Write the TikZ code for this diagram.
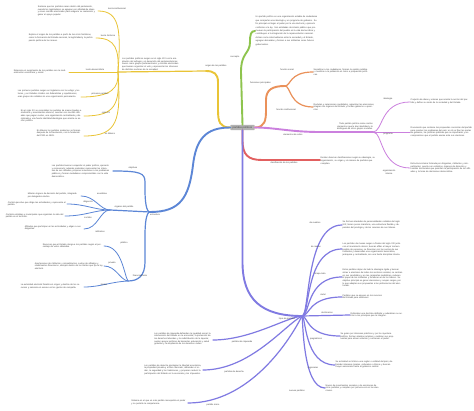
\documentclass[tikz,border=0pt]{standalone}
\usepackage{fontspec}
\setmainfont{Liberation Sans}
\usetikzlibrary{positioning}

\definecolor{cyellow}{RGB}{233,196,54}
\definecolor{cgreen}{RGB}{142,196,78}
\definecolor{corange}{RGB}{234,145,90}
\definecolor{cpurple}{RGB}{203,128,222}
\definecolor{cred}{RGB}{226,96,96}
\definecolor{cblue}{RGB}{92,134,214}
\definecolor{cindigo}{RGB}{128,122,226}
\definecolor{cgray}{RGB}{178,178,178}
\definecolor{ctext}{RGB}{70,70,70}

\begin{document}
\begin{tikzpicture}[
  x=1pt, y=-1pt,
  every node/.style={
    inner sep=0pt, text=ctext,
    font=\fontsize{2.2}{2.7}\selectfont
  },
  desc/.style={text width=#1, align=left},
  trunk/.style={line width=1.9pt, line cap=round},
  twig/.style={line width=1.2pt, line cap=round},
  leaf/.style={line width=0.8pt, line cap=round}
]
\useasboundingbox (0,0) rectangle (474,411);
\fill[white] (0,0) rectangle (474,411);

% centre
\node[fill=cgray, rounded corners=0.6pt, inner xsep=2.4pt, inner ysep=1.3pt,
  font=\fontsize{2.6}{3}\selectfont] (root) at (242.5,127.5) {partidos políticos};

% --- origen (yellow)
\coordinate (yo) at (206,71);
\coordinate (yh) at (118,72);
\coordinate (y2e) at (98,11);
\coordinate (y3e) at (96,38);
\coordinate (y4e) at (69,72);
\coordinate (y5e) at (81,97);
\coordinate (y6e) at (84,116);
\coordinate (y7e) at (84,136);
\draw[trunk,cyellow] (root.west) .. controls (220,127.5) and (218,122) .. (218,110)
  -- (218,82) .. controls (218,74) and (214,71) .. (yo);
\draw[twig,cyellow] (yo) -- (yh);
\draw[leaf,cyellow] (yh) .. controls (121,30) and (120,11) .. (y2e);
\draw[leaf,cyellow] (yh) .. controls (119,50) and (116,38) .. (y3e);
\draw[leaf,cyellow] (yh) -- (y4e);
\draw[leaf,cyellow] (yh) .. controls (119,88) and (112,97) .. (y5e);
\draw[leaf,cyellow] (yh) .. controls (120,105) and (115,116) .. (y6e);
\draw[leaf,cyellow] (yh) .. controls (121,120) and (118,136) .. (y7e);
\node[anchor=south] (ylab) at (216,67.5) {origen de los partidos};
\node[desc=58pt, anchor=south west] (ytxt) at (122,70.5) {Los partidos políticos surgen en el siglo XIX con la ampliación del sufragio y el desarrollo del parlamentarismo; nacen como grupos parlamentarios y comités electorales que buscan organizar el voto y representar los intereses de distintos sectores de la sociedad.};
\node[anchor=south] (y2lab) at (117,9.5) {teoría institucional};
\node[desc=59pt, anchor=east] (y2txt) at (97,11) {Sostiene que los partidos nacen dentro del parlamento, cuando los legisladores se agrupan por afinidad de ideas y crean comités electorales para asegurar su reelección y ganar el apoyo popular.};
\node[anchor=south] (y3lab) at (108,36.5) {teoría histórica};
\node[desc=66pt, anchor=east] (y3txt) at (95,38) {Explica el origen de los partidos a partir de las crisis históricas, como la formación del Estado nacional, la legitimidad y la participación política de las masas.};
\node[anchor=south] (y4lab) at (95,70.5) {teoría desarrollista};
\node[desc=54pt, anchor=east] (y4txt) at (68,72) {Relaciona el surgimiento de los partidos con la modernización económica y social.};
\node[anchor=south] (y5lab) at (100,95.5) {primeros partidos};
\node[desc=62pt, anchor=east] (y5txt) at (80,94) {Los primeros partidos surgen en Inglaterra con los whigs y los tories, y en Estados Unidos con federalistas y republicanos; eran grupos de notables sin una organización permanente.};
\node[anchor=south] (y6lab) at (106,114.5) {siglo XX};
\node[desc=62pt, anchor=east] (y6txt) at (83,116) {En el siglo XX se consolidan los partidos de masas ligados a sindicatos y movimientos obreros; cuentan con muchos afiliados que pagan cuotas, una organización centralizada y disciplinada y una fuerte identidad ideológica que orienta su acción política.};
\node[anchor=south] (y7lab) at (110,134.5) {en México};
\node[desc=46pt, anchor=east] (y7txt) at (83,133) {En México los partidos modernos se forman después de la Revolución, con la fundación del PNR en 1929.};

% --- concepto (green)
\coordinate (gend) at (255,31);
\draw[trunk,cgreen] (root.north) -- (241,72) .. controls (241,52) and (250,54) .. (250,42)
  .. controls (250,34) and (251,31) .. (gend);
\node[anchor=east] (glab) at (239.5,57) {concepto};
\node[desc=62pt, anchor=west, font=\fontsize{2.2}{3.4}\selectfont] (gtxt) at (255.5,31) {Un partido político es una organización estable de ciudadanos que comparten una ideología y un programa de gobierno. Su fin principal es llegar al poder por la vía electoral y ejercerlo conforme a la ley. Son entidades de interés público que promueven la participación del pueblo en la vida democrática y contribuyen a la integración de la representación nacional. Actúan como intermediarios entre la sociedad y el Estado, agregan demandas y forman a sus militantes como futuros gobernantes.};

% --- funciones (orange)
\coordinate (ohub) at (285,86);
\coordinate (o1e) at (313,72);
\coordinate (o2e) at (313,107);
\draw[trunk,corange] (root.east) .. controls (265,127.5) and (266,120) .. (266,110)
  -- (266,100) .. controls (266,90) and (272,86) .. (ohub);
\draw[twig,corange] (ohub) .. controls (291,86) and (289,72) .. (o1e);
\draw[twig,corange] (ohub) .. controls (291,86) and (289,107) .. (o2e);
\node[anchor=south east] (olab) at (271,84.5) {funciones principales};
\node[anchor=south east] (o1lab) at (294,70.5) {función social};
\node[anchor=north east] (o2lab) at (296,108.5) {función institucional};
\node[desc=55pt, anchor=west] (o1txt) at (313.5,72) {Socializan a los ciudadanos, forman la opinión pública y movilizan a la población en torno a propuestas políticas.};
\node[desc=61pt, anchor=west] (o2txt) at (313.5,107) {Reclutan y seleccionan candidatos, organizan las elecciones, integran los órganos del Estado y forman gobierno u oposición.};

% --- elementos (purple)
\coordinate (p0e) at (320,132);
\coordinate (phub) at (373,132);
\coordinate (p2e) at (410,102);
\coordinate (p3e) at (410,132);
\coordinate (p4e) at (410,168);
\draw[trunk,cpurple] (root.east) .. controls (275,127.5) and (290,132) .. (p0e);
\draw[twig,cpurple] (p0e) -- (phub);
\draw[leaf,cpurple] (phub) .. controls (383,132) and (380,102) .. (p2e);
\draw[leaf,cpurple] (phub) -- (p3e);
\draw[leaf,cpurple] (phub) .. controls (383,132) and (380,168) .. (p4e);
\node[anchor=north] (plab) at (293,134) {elementos de estos};
\node[desc=53pt, align=right, anchor=south east] (ptxt) at (373,130.5) {Todo partido político reúne ciertos elementos que le dan identidad y lo distinguen de otros grupos sociales.};
\node[anchor=south] (p2lab) at (388,100.5) {ideología};
\node[anchor=north] (p3lab) at (388,133.5) {programa};
\node[anchor=north, align=center] (p4lab) at (389,169.5) {organización\\interna};
\node[desc=58pt, anchor=west] (p2txt) at (410.5,101.5) {Conjunto de ideas y valores que orienta la acción del partido y define su visión de la sociedad y del Estado.};
\node[desc=62pt, anchor=west] (p3txt) at (410.5,132) {Documento que contiene las propuestas concretas del partido para resolver los problemas del país; en él se fijan las metas de gobierno, las políticas públicas que se impulsarán y los compromisos que el partido asume ante sus electores.};
\node[desc=60pt, anchor=west] (p4txt) at (410.5,168) {Estructura interna formada por dirigentes, militantes y simpatizantes; cuenta con estatutos, órganos de dirección y comités territoriales que permiten la participación de los afiliados y la toma de decisiones democrática.};

% --- clasificacion (red)
\coordinate (r0e) at (320,160);
\draw[trunk,cred] (root.south) -- (242.5,140) .. controls (242.5,155) and (248,160) .. (262,160) -- (r0e);
\node[anchor=north] (rlab) at (284,161.5) {clasificación de los partidos};
\node[desc=56pt, anchor=west] (rtxt) at (320.5,161) {Existen diversas clasificaciones según su ideología, su organización, su origen y el número de partidos que compiten.};

% --- estructura (blue)
\coordinate (bhub) at (150,212);
\coordinate (b1e) at (113,171);
\coordinate (hub2) at (110,210);
\coordinate (bb1) at (81,196);
\coordinate (bb2) at (67,204);
\coordinate (bb3) at (65,216);
\coordinate (bb4) at (84,229);
\coordinate (hub3) at (128,281);
\coordinate (se1) at (104,246);
\coordinate (se2) at (104,266);
\coordinate (se3) at (84,287);
\draw[trunk,cblue] (root.west) .. controls (205,127.5) and (196,140) .. (193,165)
  .. controls (189,198) and (180,212) .. (bhub);
\draw[twig,cblue] (bhub) .. controls (146,212) and (145,200) .. (145,190) -- (145,182)
  .. controls (145,173) and (140,171) .. (b1e);
\draw[twig,cblue] (bhub) -- (hub2);
\draw[twig,cblue] (bhub) .. controls (146,212) and (145,225) .. (145,235) -- (145,262)
  .. controls (145,276) and (138,281) .. (hub3);
\draw[leaf,cblue] (hub2) .. controls (100,210) and (95,196) .. (bb1);
\draw[leaf,cblue] (hub2) .. controls (95,210) and (85,204) .. (bb2);
\draw[leaf,cblue] (hub2) .. controls (95,210) and (85,216) .. (bb3);
\draw[leaf,cblue] (hub2) .. controls (100,210) and (98,229) .. (bb4);
\draw[leaf,cblue] (hub3) .. controls (124,275) and (122,246) .. (se1);
\draw[leaf,cblue] (hub3) .. controls (120,280) and (116,266) .. (se2);
\draw[leaf,cblue] (hub3) .. controls (110,282) and (100,287) .. (se3);
\node[anchor=north] (blab) at (155,213.5) {estructura};
\node[anchor=south] (b1lab) at (133,169.5) {objetivos};
\node[desc=60pt, anchor=east] (b1txt) at (112,171) {Los partidos buscan conquistar el poder político, ejercerlo y conservarlo; además pretenden representar los intereses de sus afiliados, proponer soluciones a los problemas públicos y formar ciudadanos comprometidos con la vida democrática.};
\node[anchor=south] (b2lab) at (124,208.5) {órganos del partido};
\node[anchor=south] (bb1lab) at (102,195) {asamblea};
\node[anchor=south] (bb2lab) at (88,203) {dirigencia};
\node[anchor=north] (bb3lab) at (88,217) {comités};
\node[anchor=north] (bb4lab) at (100,230.5) {militantes};
\node[desc=52pt, anchor=east] (bb1txt) at (80,195.5) {Máximo órgano de decisión del partido, integrado por delegados electos.};
\node[desc=58pt, anchor=east] (bb2txt) at (66,204) {Comité ejecutivo que dirige las actividades y representa al partido.};
\node[desc=58pt, anchor=east] (bb3txt) at (64,216) {Comités estatales y municipales que organizan la vida del partido en el territorio.};
\node[desc=58pt, anchor=east] (bb4txt) at (83,228) {Afiliados que participan en las actividades y eligen a sus dirigentes.};
\node[anchor=south] (b3lab) at (140,276.5) {financiamiento};
\node[anchor=south] (se1lab) at (124,244.5) {público};
\node[anchor=south] (se2lab) at (112,264.5) {privado};
\node[anchor=south] (se3lab) at (104,285.5) {límites};
\node[desc=60pt, anchor=east] (se1txt) at (103,246) {Recursos que el Estado otorga a los partidos según el porcentaje de votos obtenidos.};
\node[desc=68pt, anchor=east] (se2txt) at (103,266) {Aportaciones de militantes y simpatizantes, cuotas de afiliados y rendimientos financieros, siempre dentro de los límites que fija la ley electoral.};
\node[desc=62pt, anchor=east] (se3txt) at (83,286.5) {La autoridad electoral fiscaliza el origen y destino de los recursos y sanciona el exceso en los gastos de campaña.};

% --- tipos (indigo)
\coordinate (ihub) at (302,316);
\coordinate (t1e) at (342,225);
\coordinate (t2e) at (342,249);
\coordinate (t3e) at (342,277);
\coordinate (t4e) at (342,297);
\coordinate (t5e) at (350,315);
\coordinate (t6e) at (340,336);
\coordinate (t7e) at (335,365);
\coordinate (t8e) at (325,388);
\coordinate (l1e) at (213,340);
\coordinate (l2e) at (203,370);
\coordinate (l3e) at (188,403);
\draw[trunk,cindigo] (root.south) -- (242.5,262) .. controls (242.5,300) and (262,316) .. (ihub);
\draw[twig,cindigo] (ihub) .. controls (310,316) and (305,225) .. (t1e);
\draw[twig,cindigo] (ihub) .. controls (310,316) and (305,249) .. (t2e);
\draw[twig,cindigo] (ihub) .. controls (310,316) and (306,277) .. (t3e);
\draw[twig,cindigo] (ihub) .. controls (310,316) and (308,297) .. (t4e);
\draw[twig,cindigo] (ihub) -- (t5e);
\draw[twig,cindigo] (ihub) .. controls (308,316) and (306,336) .. (t6e);
\draw[twig,cindigo] (ihub) .. controls (306,316) and (304,365) .. (t7e);
\draw[twig,cindigo] (ihub) .. controls (303,316) and (302,388) .. (t8e);
\draw[twig,cindigo] (ihub) .. controls (285,318) and (250,340) .. (l1e);
\draw[twig,cindigo] (ihub) .. controls (285,325) and (250,370) .. (l2e);
\draw[twig,cindigo] (ihub) .. controls (290,340) and (250,403) .. (l3e);
\node[anchor=north] (tlab) at (287,318) {tipos de partidos};
\node[anchor=south] (t1lab) at (315,223.5) {de cuadros};
\node[anchor=south] (t2lab) at (316,247.5) {de masas};
\node[anchor=south] (t3lab) at (320,275.5) {atrapa todo};
\node[anchor=south] (t4lab) at (323,295.5) {cártel};
\node[anchor=south] (t5lab) at (327,313.5) {doctrinarios};
\node[anchor=north] (t6lab) at (316,337.5) {pragmáticos};
\node[anchor=north] (t7lab) at (313,366.5) {regionales};
\node[anchor=north] (t8lab) at (297,389.5) {nuevos partidos};
\node[desc=60pt, anchor=west] (t1txt) at (342.5,225) {Se forman alrededor de personalidades notables del siglo XIX; tienen pocos miembros, una estructura flexible y dependen del prestigio y de los recursos de sus líderes.};
\node[desc=60pt, anchor=west] (t2txt) at (342.5,249.5) {Los partidos de masas surgen a finales del siglo XIX junto con el movimiento obrero; buscan afiliar al mayor número posible de personas, se financian con las cuotas de sus militantes y desarrollan una organización burocrática, jerárquica y centralizada, con una fuerte disciplina interna.};
\node[desc=60pt, anchor=west] (t3txt) at (342.5,278) {Estos partidos dejan de lado la ideología rígida y buscan atraer a electores de todos los sectores sociales; se centran en sus candidatos y en las campañas mediáticas, reducen el papel de los militantes y fortalecen el de los líderes. Su objetivo principal es ganar elecciones y ocupar cargos, por lo que adaptan sus propuestas a las preferencias del electorado.};
\node[desc=40pt, anchor=west] (t4txt) at (342.5,297) {Partidos que se apoyan en los recursos del Estado para sobrevivir.};
\node[desc=55pt, anchor=west] (t5txt) at (350.5,315) {Defienden una doctrina definida y subordinan su acción a los principios que la integran.};
\node[desc=55pt, anchor=west] (t6txt) at (340.5,336.5) {Se guían por intereses prácticos y por la coyuntura política; forman alianzas amplias y cambian sus propuestas para atraer votantes y conservar el poder.};
\node[desc=58pt, anchor=west] (t7txt) at (335.5,364.5) {Su actividad se limita a una región o entidad del país; defienden intereses locales, culturales o étnicos y buscan mayor autonomía frente al gobierno central.};
\node[desc=55pt, anchor=west] (t8txt) at (325.5,388) {Nacen de movimientos sociales o de escisiones de otros partidos y compiten por primera vez en las elecciones.};
\node[anchor=north] (l1lab) at (242,340.5) {partidos de izquierda};
\node[anchor=north] (l2lab) at (234,370.5) {partidos de derecha};
\node[anchor=north] (l3lab) at (213,404) {partido único};
\node[desc=58pt, anchor=east] (l1txt) at (212.5,339) {Los partidos de izquierda defienden la igualdad social, la intervención del Estado en la economía, la protección de los derechos laborales y la redistribución de la riqueza; suelen apoyar políticas de bienestar, educación y salud gratuitas y la ampliación de los derechos civiles.};
\node[desc=58pt, anchor=east] (l2txt) at (202.5,369.5) {Los partidos de derecha privilegian la libertad económica, la propiedad privada y el libre mercado; defienden el orden, la seguridad y las tradiciones, y proponen reducir la participación del Estado en la economía y los impuestos.};
\node[desc=56pt, anchor=east] (l3txt) at (187.5,402.5) {Sistema en el que un solo partido monopoliza el poder y no permite la competencia.};
\end{tikzpicture}
\end{document}
